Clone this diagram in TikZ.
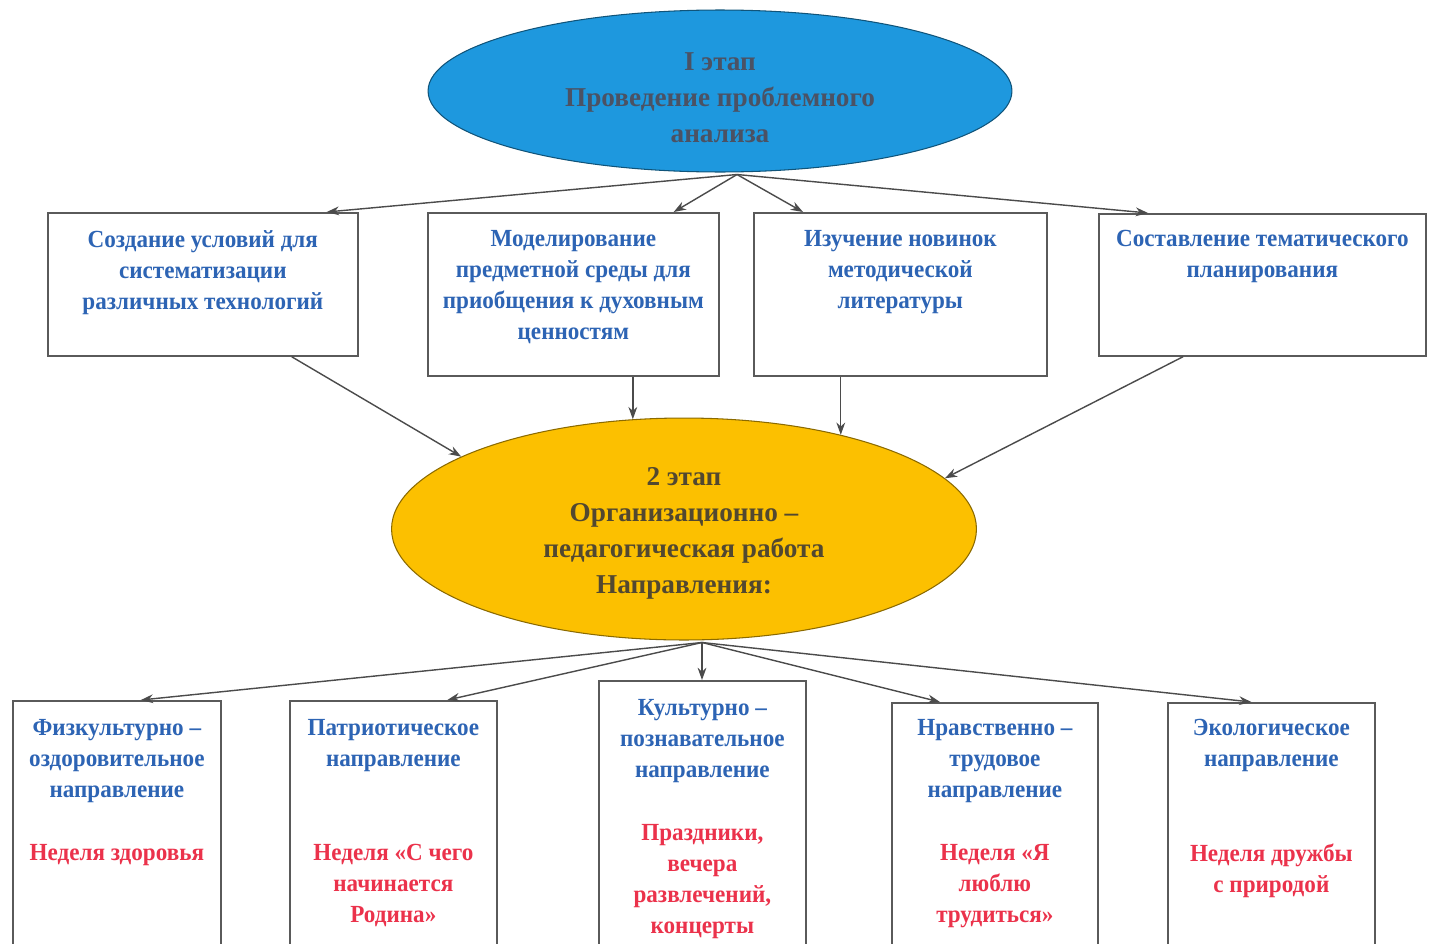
\documentclass[tikz,border=0pt]{standalone}
\usepackage{fontspec}
\setmainfont{Liberation Serif}
\newfontfamily\boxfont[FakeStretch=0.94]{Liberation Serif}
\usepackage{xcolor}
\usetikzlibrary{arrows.meta,positioning,calc,shapes.geometric}
\definecolor{stageblue}{RGB}{30,152,222}
\definecolor{stagegold}{RGB}{252,192,0}
\definecolor{stageink}{RGB}{75,82,100}
\definecolor{goldink}{RGB}{82,72,48}
\definecolor{dirblue}{RGB}{45,100,180}
\definecolor{dirred}{RGB}{235,50,75}
\definecolor{framegray}{RGB}{90,90,90}
\definecolor{arrowgray}{RGB}{75,75,75}

\begin{document}
\begin{tikzpicture}[x=0.02cm, y=-0.02cm, >={Stealth[length=7pt,width=5pt]},
  stage/.style={ellipse, draw=#1!55!black, line width=0.6pt, fill=#1, inner sep=0pt,
    align=center, font=\fontsize{15.5}{20.5}\selectfont\bfseries},
  stepbox/.style={draw=framegray, line width=1pt, fill=white, inner sep=0pt, anchor=north west},
  bluetxt/.style={text=dirblue, align=center, inner sep=0pt, font=\boxfont\fontsize{14}{17.6}\selectfont\bfseries},
  redtxt/.style={text=dirred, align=center, inner sep=0pt, font=\boxfont\fontsize{14}{17.6}\selectfont\bfseries},
  arr/.style={->, draw=arrowgray, line width=0.8pt}]
\useasboundingbox (0,0) rectangle (1435,943);

% stages
\node[stage=stageblue, text=stageink, minimum width=11.68cm, minimum height=3.24cm] (e1) at (720,91)
  {\rule{0pt}{18pt}I этап\\Проведение проблемного\\анализа};
\node[stage=stagegold, text=goldink, minimum width=11.7cm, minimum height=4.44cm] (e2) at (684,529)
  {\rule{0pt}{15pt}2 этап\\Организационно –\\педагогическая работа\\Направления:};

% first row
\node[stepbox, minimum width=6.2cm, minimum height=2.86cm] (b1) at (47,212) {};
\node[stepbox, minimum width=5.82cm, minimum height=3.26cm] (b2) at (427,212) {};
\node[stepbox, minimum width=5.86cm, minimum height=3.26cm] (b3) at (753,212) {};
\node[stepbox, minimum width=6.54cm, minimum height=2.84cm] (b4) at (1098,213) {};

\node[bluetxt, below=0.36cm of b1.north] (t1) {Создание условий для\\систематизации\\различных технологий};
\node[bluetxt, below=0.36cm of b2.north] (t2) {Моделирование\\предметной среды для\\приобщения к духовным\\ценностям};
\node[bluetxt, below=0.36cm of b3.north] (t3) {Изучение новинок\\методической\\литературы};
\node[bluetxt, below=0.34cm of b4.north] (t4) {Составление тематического\\планирования};

% directions
\node[stepbox, minimum width=4.16cm, minimum height=5.2cm] (bA) at (12,700) {};
\node[stepbox, minimum width=4.14cm, minimum height=5.2cm] (bB) at (289,700) {};
\node[stepbox, minimum width=4.14cm, minimum height=5.6cm] (bC) at (598,680) {};
\node[stepbox, minimum width=4.12cm, minimum height=5.16cm] (bD) at (891,702) {};
\node[stepbox, minimum width=4.14cm, minimum height=5.16cm] (bE) at (1167,702) {};

\node[bluetxt, below=0.38cm of bA.north] (tA) {Физкультурно –\\оздоровительное\\направление};
\node[bluetxt, below=0.38cm of bB.north] (tB) {Патриотическое\\направление};
\node[bluetxt, below=0.38cm of bC.north] (tC) {Культурно –\\познавательное\\направление};
\node[bluetxt, below=0.34cm of bD.north] (tD) {Нравственно –\\трудовое\\направление};
\node[bluetxt, below=0.34cm of bE.north] (tE) {Экологическое\\направление};

\node[redtxt, below=2.88cm of bA.north] (rA) {Неделя здоровья};
\node[redtxt, below=2.88cm of bB.north] (rB) {Неделя «С чего\\начинается\\Родина»};
\node[redtxt, below=2.88cm of bC.north] (rC) {Праздники,\\вечера\\развлечений,\\концерты};
\node[redtxt, below=2.84cm of bD.north] (rD) {Неделя «Я\\люблю\\трудиться»};
\node[redtxt, below=2.84cm of bE.north] (rE) {Неделя дружбы\\с природой};

% connectors
\coordinate (h1) at ($(e1.south)+(17,2)$);
\draw[arr] (h1) -- ($(b1.north east)+(-32,0)$);
\draw[arr] (h1) -- ($(b2.north east)+(-46,0)$);
\draw[arr] (h1) -- ($(b3.north west)+(50,0)$);
\draw[arr] (h1) -- ($(b4.north west)+(50,0)$);

\draw[arr] ($(b1.south east)+(-67,0)$) -- (e2.162);
\draw[arr] (e2.115.5 |- b2.south) -- (e2.115.5);
\draw[arr] (e2.31 |- b3.south) -- (e2.31);
\draw[arr] ($(b4.south west)+(85,0)$) -- (e2.11);

\coordinate (h2) at ($(e2.south)+(18,2)$);
\draw[arr] (h2) -- ($(bA.north)+(24,0)$);
\draw[arr] (h2) -- ($(bB.north)+(54,0)$);
\draw[arr] (h2) -- (h2 |- bC.north);
\draw[arr] (h2) -- ($(bD.north west)+(49,0)$);
\draw[arr] (h2) -- ($(bE.north)+(-20,0)$);
\end{tikzpicture}
\end{document}
